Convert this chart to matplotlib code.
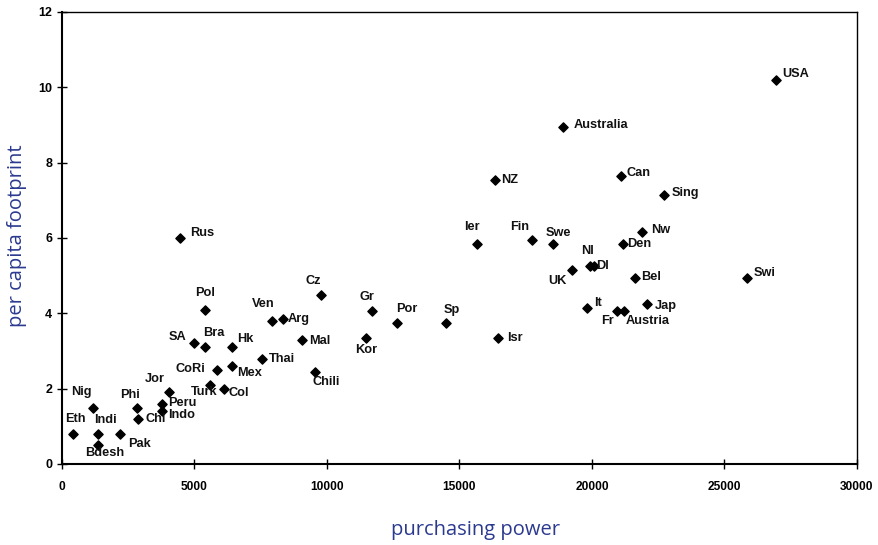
import matplotlib
matplotlib.use("Agg")
import matplotlib.pyplot as plt

countries = ["USA", "Australia", "NZ", "Can", "Sing", "Nw", "Den", "Bel", "Swi", "Jap",
             "Austria", "Fr", "It", "UK", "Nl", "Dl", "Swe", "Fin", "Ier", "Isr",
             "Sp", "Por", "Gr", "Kor", "Cz", "Chili", "Mal", "Arg", "Ven", "Thai",
             "Pol", "Rus", "SA", "Bra", "Hk", "CoRi", "Mex", "Turk", "Col", "Jor",
             "Peru", "Indo", "Chi", "Phi", "Nig", "Eth", "Indi", "Bdesh", "Pak"]
purchasing = [26960, 18920, 16330, 21080, 22720, 21880, 21180, 21620, 25840, 22060,
              21200, 20950, 19820, 19240, 19920, 20060, 18520, 17740, 15670, 16470,
              14500, 12660, 11710, 11470, 9790, 9540, 9040, 8330, 7920, 7560,
              5400, 4460, 5000, 5400, 6410, 5860, 6400, 5580, 6130, 4040,
              3770, 3790, 2880, 2830, 1180, 410, 1370, 1350, 2190]
footprint = [10.2, 8.95, 7.55, 7.65, 7.15, 6.15, 5.85, 4.95, 4.95, 4.25,
             4.05, 4.05, 4.15, 5.15, 5.25, 5.25, 5.85, 5.95, 5.85, 3.35,
             3.75, 3.75, 4.05, 3.35, 4.5, 2.45, 3.3, 3.85, 3.8, 2.8,
             4.1, 6.0, 3.2, 3.1, 3.1, 2.5, 2.6, 2.1, 2.0, 1.9,
             1.6, 1.4, 1.2, 1.5, 1.5, 0.8, 0.8, 0.5, 0.8]

# label offsets in pixels (dx, dy, ha)
offsets = {
    "USA": (6, 6, "left"), "Australia": (10, 2, "left"), "NZ": (6, 0, "left"),
    "Can": (6, 3, "left"), "Sing": (8, 2, "left"), "Nw": (9, 2, "left"),
    "Den": (4, 0, "left"), "Bel": (6, 1, "left"), "Swi": (7, 5, "left"),
    "Jap": (8, -2, "left"), "Austria": (2, -10, "left"), "Fr": (-3, -10, "right"),
    "It": (7, 5, "left"), "UK": (-5, -11, "right"), "Nl": (-2, 15, "center"),
    "Dl": (3, 0, "left"), "Swe": (6, 11, "center"), "Fin": (-12, 13, "center"),
    "Ier": (-5, 17, "center"), "Isr": (9, 0, "left"), "Sp": (6, 13, "center"),
    "Por": (9, 14, "center"), "Gr": (-5, 14, "center"), "Kor": (0, -12, "center"),
    "Cz": (-8, 13, "center"), "Chili": (-2, -10, "left"), "Mal": (8, -1, "left"),
    "Arg": (5, 0, "left"), "Ven": (-9, 17, "center"), "Thai": (7, 0, "left"),
    "Pol": (0, 17, "center"), "Rus": (10, 5, "left"), "SA": (-8, 6, "right"),
    "Bra": (9, 14, "center"), "Hk": (5, 8, "left"), "CoRi": (-12, 1, "right"),
    "Mex": (6, -7, "left"), "Turk": (-6, -7, "center"), "Col": (4, -4, "left"),
    "Jor": (-14, 13, "center"), "Peru": (6, 1, "left"), "Indo": (6, -4, "left"),
    "Chi": (7, 0, "left"), "Phi": (-7, 12, "center"), "Nig": (-12, 16, "center"),
    "Eth": (3, 15, "center"), "Indi": (7, 14, "center"), "Bdesh": (7, -8, "center"),
    "Pak": (8, -10, "left"),
}

xticks = [0, 5000, 10000, 15000, 20000, 25000, 30000]
yticks = [0, 2, 4, 6, 8, 10, 12]

plt.rcParams['font.family'] = ['Liberation Sans', 'DejaVu Sans']

fig = plt.figure(figsize=(8.79, 5.45), dpi=100)
ax = fig.add_axes([62/879, 81/545, 795/879, 452/545])

ax.scatter(purchasing, footprint, marker="D", s=22, color="black", zorder=3)
for name, xv, yv in zip(countries, purchasing, footprint):
    dx, dy, ha = offsets[name]
    ax.annotate(name, (xv, yv), xytext=(dx, dy), textcoords="offset pixels",
                ha=ha, va="center", fontsize=9.2, fontweight="bold", color="#111111")

ax.set_xlim(0, 30000)
ax.set_ylim(0, 12)
ax.set_xticks(xticks)
ax.set_yticks(yticks)
ax.set_xticklabels([str(v) for v in xticks], fontsize=8.6, fontweight="bold")
ax.set_yticklabels([str(v) for v in yticks], fontsize=9, fontweight="bold")
ax.tick_params(direction="inout", length=7, width=1)
ax.tick_params(axis="x", pad=9)
for s in ["left", "bottom"]:
    ax.spines[s].set_linewidth(1.5)
for s in ["top", "right"]:
    ax.spines[s].set_linewidth(1.0)

label_color = "#2b3a8f"
fig.text(476/879, 1 - 530/545, "purchasing power", ha="center", va="center",
         fontsize=14.5, color=label_color, family=["Open Sans", "DejaVu Sans"])
fig.text(17/879, 1 - 236/545, "per capita footprint", ha="center", va="center",
         rotation=90, fontsize=14.5, color=label_color, family=["Open Sans", "DejaVu Sans"])

fig.savefig("out.png", dpi=100)
